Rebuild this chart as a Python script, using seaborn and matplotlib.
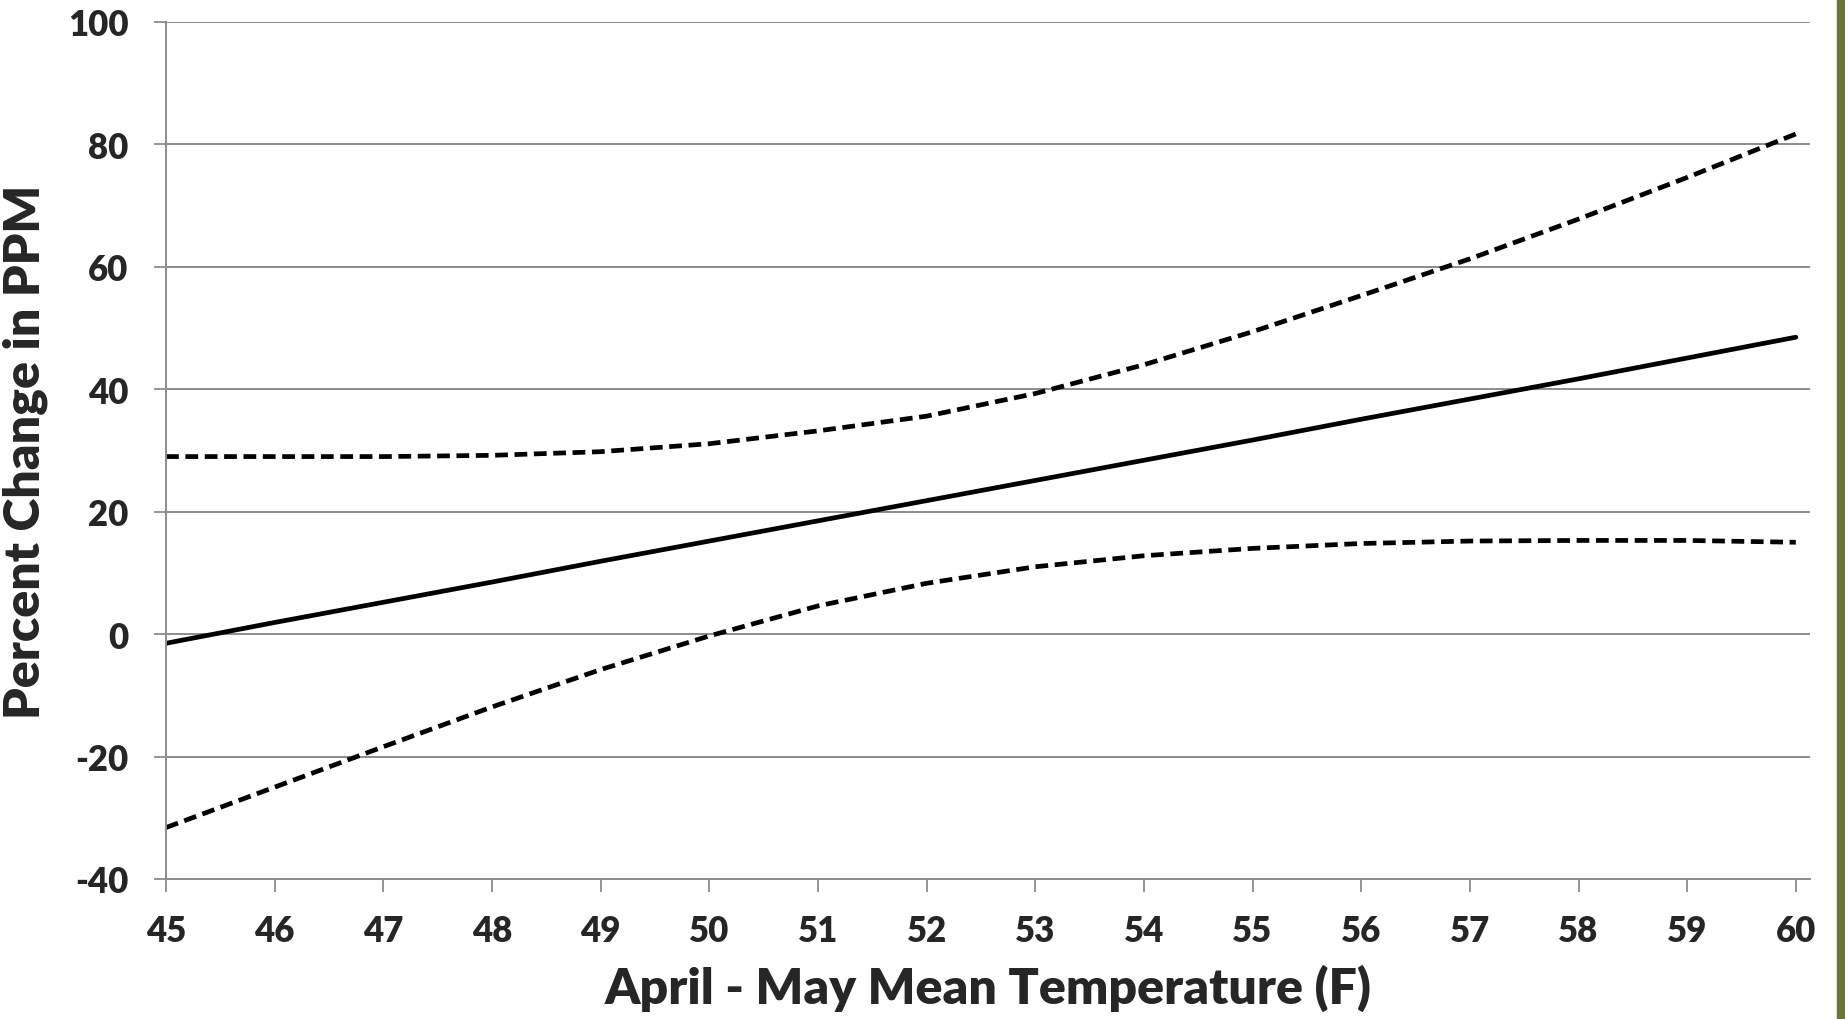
import numpy
import pandas
import matplotlib
matplotlib.use('Agg')
import matplotlib.pyplot as plt
import matplotlib.patches as mpatches
import seaborn

temps = [45, 46, 47, 48, 49, 50, 51, 52, 53, 54, 55, 56, 57, 58, 59, 60]
estimate = [-1.5, 1.9, 5.2, 8.5, 11.9, 15.2, 18.5, 21.8, 25.1, 28.4, 31.7, 35.1, 38.4, 41.7, 45.1, 48.5]
upper = [29.0, 29.0, 29.0, 29.2, 29.8, 31.1, 33.2, 35.6, 39.3, 44.0, 49.4, 55.3, 61.3, 67.8, 74.6, 81.7]
lower = [-31.6, -25.0, -18.4, -11.9, -5.8, -0.3, 4.6, 8.3, 11.0, 12.8, 14.0, 14.8, 15.2, 15.3, 15.3, 15.0]

yticks = [-40, -20, 0, 20, 40, 60, 80, 100]

if __name__ == "__main__":
    seaborn.set_style('white')
    plt.rcParams['font.family'] = ['Lato', 'DejaVu Sans']

    Data = pandas.DataFrame({'temp': temps, 'estimate': estimate,
                             'upper': upper, 'lower': lower})

    fig = plt.figure(figsize=(18.45, 10.2), dpi=100)
    ax = fig.add_axes([0.09, 0.1373, 0.891, 0.8402])

    for y in yticks:
        ax.axhline(y, color='#8c8c8c', linewidth=1.4, zorder=0)

    seaborn.lineplot(data=Data, x='temp', y='estimate', color='black',
                     linewidth=3.4, ax=ax)
    seaborn.lineplot(data=Data, x='temp', y='upper', color='black',
                     linewidth=3.4, ax=ax).lines[-1].set_dashes([2.7, 1.4])
    seaborn.lineplot(data=Data, x='temp', y='lower', color='black',
                     linewidth=3.4, ax=ax).lines[-1].set_dashes([2.7, 1.4])

    ax.set_xlim(45, 60.13)
    ax.set_ylim(-40, 100)
    ax.set_xticks(temps)
    ax.set_yticks(yticks)
    ax.set_xticklabels([str(t) for t in temps], fontsize=25, fontweight='heavy')
    ax.set_yticklabels([str(t) for t in yticks], fontsize=25, fontweight='heavy')

    for s in ['top', 'right']:
        ax.spines[s].set_visible(False)
    for s in ['left', 'bottom']:
        ax.spines[s].set_color('#8c8c8c')
        ax.spines[s].set_linewidth(1.4)

    ax.tick_params(axis='x', direction='out', length=9, width=1.3,
                   color='#8c8c8c', pad=16, bottom=True)
    ax.tick_params(axis='y', direction='out', length=9, width=1.3,
                   color='#8c8c8c', pad=18, left=True)

    ax.set_xlabel('April - May Mean Temperature (F)', fontsize=36,
                  fontweight='heavy', labelpad=12)
    ax.set_ylabel('Percent Change in PPM', fontsize=36,
                  fontweight='heavy', labelpad=14)

    # green edge on the right
    fig.patches.append(mpatches.Rectangle((0.9957, 0), 0.0043, 1,
                                          transform=fig.transFigure,
                                          color='#6b7433', zorder=5))

    fig.savefig('out.png', dpi=100)
    print('Done!')
